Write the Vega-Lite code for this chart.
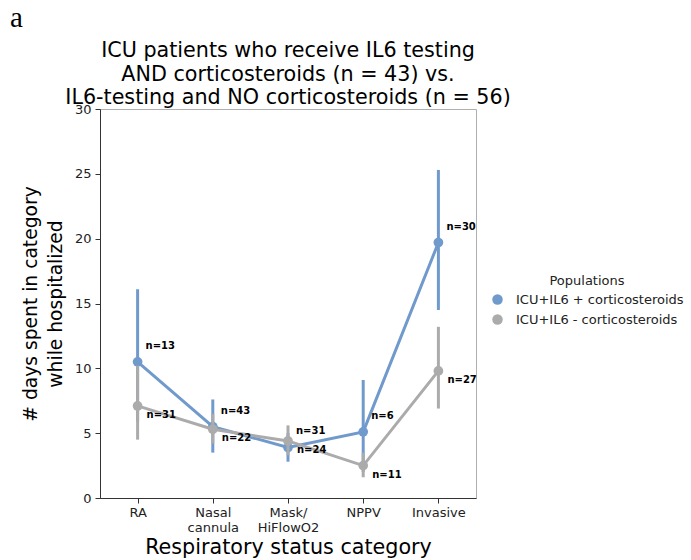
{
  "$schema": "https://vega.github.io/schema/vega-lite/v6.json",
  "padding": {"left": 9, "top": 3, "right": 0, "bottom": 0},
  "title": {"text": "a", "anchor": "start", "font": "Liberation Serif", "fontSize": 29, "fontWeight": "normal", "color": "#000", "dx": -11, "offset": 7},
  "datasets": {
    "stats": [
      {"category": "RA", "population": "ICU+IL6 + corticosteroids", "mean": 10.5, "lo": 5.9, "hi": 16.1, "n": "n=13"},
      {"category": "Nasal cannula", "population": "ICU+IL6 + corticosteroids", "mean": 5.5, "lo": 3.5, "hi": 7.6, "n": "n=43"},
      {"category": "Mask/HiFlowO2", "population": "ICU+IL6 + corticosteroids", "mean": 3.9, "lo": 2.8, "hi": 5.0, "n": "n=31"},
      {"category": "NPPV", "population": "ICU+IL6 + corticosteroids", "mean": 5.1, "lo": 2.0, "hi": 9.1, "n": "n=6"},
      {"category": "Invasive", "population": "ICU+IL6 + corticosteroids", "mean": 19.7, "lo": 14.5, "hi": 25.3, "n": "n=30"},
      {"category": "RA", "population": "ICU+IL6 - corticosteroids", "mean": 7.1, "lo": 4.5, "hi": 10.2, "n": "n=31"},
      {"category": "Nasal cannula", "population": "ICU+IL6 - corticosteroids", "mean": 5.3, "lo": 4.2, "hi": 6.5, "n": "n=22"},
      {"category": "Mask/HiFlowO2", "population": "ICU+IL6 - corticosteroids", "mean": 4.4, "lo": 3.3, "hi": 5.6, "n": "n=24"},
      {"category": "NPPV", "population": "ICU+IL6 - corticosteroids", "mean": 2.5, "lo": 1.6, "hi": 3.5, "n": "n=11"},
      {"category": "Invasive", "population": "ICU+IL6 - corticosteroids", "mean": 9.8, "lo": 6.9, "hi": 13.2, "n": "n=27"}
    ]
  },
  "vconcat": [
    {
      "width": 376,
      "height": 389,
      "title": {
        "text": ["ICU patients who receive IL6 testing", "AND corticosteroids (n = 43) vs.", "IL6-testing and NO corticosteroids (n = 56)"],
        "font": "DejaVu Sans", "fontSize": 20.7, "fontWeight": "normal", "lineHeight": 23.5, "color": "#000",
        "anchor": "middle", "frame": "group", "offset": -6
      },
      "data": {"name": "stats"},
      "encoding": {
        "x": {
          "field": "category", "type": "nominal",
          "sort": ["RA", "Nasal cannula", "Mask/HiFlowO2", "NPPV", "Invasive"],
          "scale": {"type": "point", "padding": 0.5},
          "axis": {
            "title": "Respiratory status category",
            "titleFontSize": 20.7,
            "labelAngle": 0,
            "labelExpr": "datum.label == 'Nasal cannula' ? ['Nasal', 'cannula'] : datum.label == 'Mask/HiFlowO2' ? ['Mask/', 'HiFlowO2'] : datum.label",
            "labelLineHeight": 15,
            "labelPadding": 3,
            "titlePadding": 3
          }
        },
        "y": {
          "field": "mean", "type": "quantitative",
          "scale": {"domain": [0, 30], "nice": false, "zero": true},
          "axis": {
            "title": ["# days spent in category", "while hospitalized"],
            "titleFontSize": 18.7,
            "values": [0, 5, 10, 15, 20, 25, 30],
            "titleLineHeight": 25,
            "labelPadding": 4,
            "titlePadding": 9
          }
        }
      },
      "layer": [
        {
          "transform": [{"filter": "datum.population == 'ICU+IL6 + corticosteroids'"}],
          "mark": {"type": "rule", "strokeWidth": 3, "color": "#709ACC"},
          "encoding": {
            "y": {"field": "lo", "type": "quantitative"},
            "y2": {"field": "hi"}
          }
        },
        {
          "transform": [{"filter": "datum.population == 'ICU+IL6 + corticosteroids'"}],
          "mark": {"type": "line", "strokeWidth": 3, "color": "#709ACC"},
          "encoding": {}
        },
        {
          "transform": [{"filter": "datum.population == 'ICU+IL6 + corticosteroids'"}],
          "mark": {"type": "point", "filled": true, "shape": "circle", "size": 95, "opacity": 1},
          "encoding": {
            "color": {"field": "population", "type": "nominal",
              "scale": {"domain": ["ICU+IL6 + corticosteroids", "ICU+IL6 - corticosteroids"], "range": ["#709ACC", "#ABABAB"]},
              "legend": {"title": "Populations", "orient": "none", "legendX": 391, "legendY": 166}}
          }
        },
        {
          "transform": [{"filter": "datum.population == 'ICU+IL6 - corticosteroids'"}],
          "mark": {"type": "rule", "strokeWidth": 3, "color": "#ABABAB"},
          "encoding": {
            "y": {"field": "lo", "type": "quantitative"},
            "y2": {"field": "hi"}
          }
        },
        {
          "transform": [{"filter": "datum.population == 'ICU+IL6 - corticosteroids'"}],
          "mark": {"type": "line", "strokeWidth": 3, "color": "#ABABAB"},
          "encoding": {}
        },
        {
          "transform": [{"filter": "datum.population == 'ICU+IL6 - corticosteroids'"}],
          "mark": {"type": "point", "filled": true, "shape": "circle", "size": 95, "opacity": 1},
          "encoding": {
            "color": {"field": "population", "type": "nominal",
              "legend": {"title": "Populations", "orient": "none", "legendX": 391, "legendY": 166}}
          }
        },
        {
          "transform": [{"filter": "datum.population == 'ICU+IL6 + corticosteroids'"}],
          "mark": {"type": "text", "align": "left", "baseline": "middle", "dx": 8, "dy": -16, "font": "DejaVu Sans", "fontSize": 10, "fontWeight": "bold", "color": "#000"},
          "encoding": {"text": {"field": "n"}}
        },
        {
          "transform": [{"filter": "datum.population == 'ICU+IL6 - corticosteroids'"}],
          "mark": {"type": "text", "align": "left", "baseline": "middle", "dx": 9, "dy": 9, "font": "DejaVu Sans", "fontSize": 10, "fontWeight": "bold", "color": "#000"},
          "encoding": {"text": {"field": "n"}}
        }
      ]
    }
  ],
  "config": {
    "font": "DejaVu Sans",
    "view": {"stroke": "#b0b0b0", "strokeWidth": 1},
    "axis": {
      "grid": false,
      "domainColor": "#333",
      "domainWidth": 1,
      "tickColor": "#333",
      "tickSize": 5,
      "labelFont": "DejaVu Sans",
      "labelFontSize": 13,
      "labelColor": "#222",
      "titleFont": "DejaVu Sans",
      "titleFontSize": 18,
      "titleFontWeight": "normal",
      "titleColor": "#000"
    },
    "legend": {
      "titleFont": "DejaVu Sans",
      "titleFontSize": 13,
      "titleFontWeight": "normal",
      "titleColor": "#222",
      "titleAnchor": "middle",
      "titleAlign": "center",
      "titlePadding": 5,
      "labelFont": "DejaVu Sans",
      "labelFontSize": 13,
      "labelColor": "#222",
      "labelLimit": 400,
      "labelOffset": 12,
      "symbolType": "circle",
      "symbolSize": 110,
      "rowPadding": 6
    }
  }
}
